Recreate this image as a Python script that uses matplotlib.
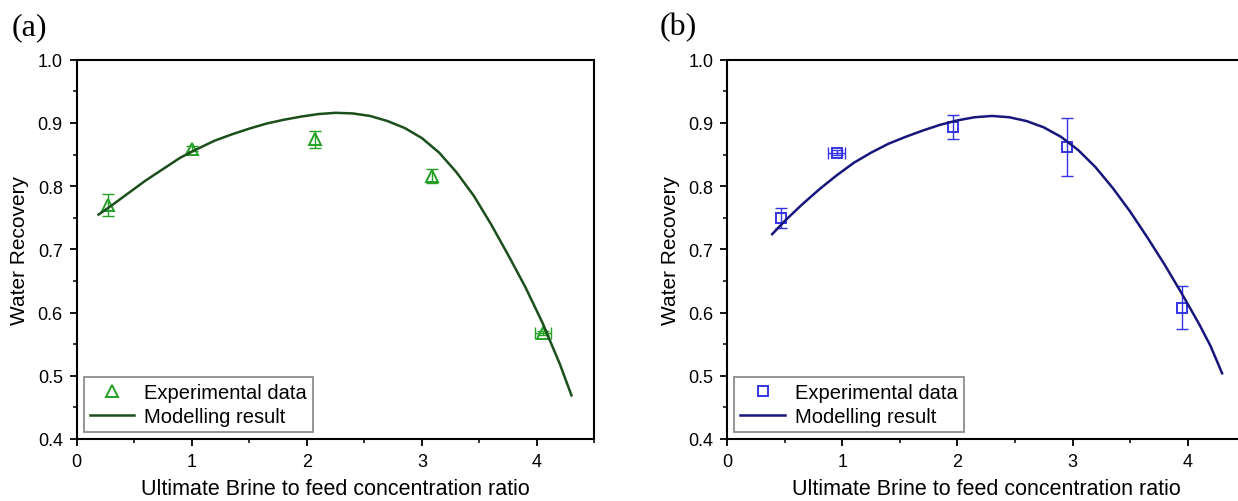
import matplotlib
matplotlib.use('Agg')
import matplotlib.pyplot as plt
from matplotlib.ticker import MultipleLocator
import numpy as np

plt.rcParams['font.family'] = ['Liberation Sans', 'DejaVu Sans']

# panel (a) - experimental points
exp_a_x = [0.27, 1.00, 2.07, 3.09, 4.05]
exp_a_y = [0.770, 0.859, 0.874, 0.816, 0.568]
exp_a_yerr = [0.017, 0.004, 0.013, 0.011, 0.003]
exp_a_xerr = [0.0, 0.0, 0.0, 0.0, 0.07]

# panel (a) - modelling result
model_a_x = [0.19, 0.30, 0.45, 0.60, 0.75, 0.90, 1.05, 1.20, 1.35, 1.50, 1.65, 1.80,
             1.95, 2.10, 2.25, 2.40, 2.55, 2.70, 2.85, 3.00, 3.15, 3.30, 3.45, 3.60,
             3.75, 3.90, 4.05, 4.20, 4.30]
model_a_y = [0.755, 0.769, 0.789, 0.809, 0.827, 0.845, 0.859, 0.872, 0.882, 0.891, 0.899, 0.905,
             0.910, 0.914, 0.916, 0.915, 0.911, 0.903, 0.892, 0.876, 0.853, 0.822, 0.785, 0.740,
             0.691, 0.640, 0.583, 0.518, 0.469]

# panel (b) - experimental points
exp_b_x = [0.47, 0.95, 1.96, 2.95, 3.95]
exp_b_y = [0.750, 0.853, 0.894, 0.862, 0.608]
exp_b_yerr = [0.016, 0.004, 0.019, 0.046, 0.034]
exp_b_xerr = [0.0, 0.077, 0.0, 0.0, 0.0]

# panel (b) - modelling result
model_b_x = [0.39, 0.50, 0.65, 0.80, 0.95, 1.10, 1.25, 1.40, 1.55, 1.70, 1.85, 2.00,
             2.15, 2.30, 2.45, 2.60, 2.75, 2.90, 3.05, 3.20, 3.35, 3.50, 3.65, 3.80,
             3.95, 4.10, 4.20, 4.30]
model_b_y = [0.724, 0.745, 0.771, 0.795, 0.817, 0.837, 0.853, 0.867, 0.878, 0.888, 0.897, 0.904,
             0.909, 0.911, 0.909, 0.903, 0.893, 0.878, 0.857, 0.830, 0.797, 0.760, 0.719, 0.676,
             0.630, 0.582, 0.547, 0.504]

x_label = 'Ultimate Brine to feed concentration ratio'
y_label = 'Water Recovery'

W, H = 1238, 502
fig = plt.figure(figsize=(W / 100, H / 100), dpi=100)

ax_a = fig.add_axes([76.7 / W, 62 / H, 517.8 / W, 379.3 / H])
ax_b = fig.add_axes([727.3 / W, 62 / H, 517.8 / W, 379.3 / H])


def draw_panel(ax, ex, ey, exerr, eyerr, mx, my, marker, msize, mcolor, lcolor):
    ex = np.array(ex)
    ey = np.array(ey)
    exerr = np.array(exerr)
    ax.errorbar(ex, ey, yerr=eyerr, fmt='none', ecolor=mcolor, elinewidth=1.0,
                capsize=4, capthick=1.0, zorder=2)
    has_x = exerr > 0
    ax.errorbar(ex[has_x], ey[has_x], xerr=exerr[has_x], fmt='none', ecolor=mcolor,
                elinewidth=1.0, capsize=4, capthick=1.0, zorder=2)
    ax.plot(ex, ey, linestyle='none', marker=marker, markersize=msize,
            markerfacecolor='none', markeredgecolor=mcolor, markeredgewidth=1.4,
            label='Experimental data', zorder=3)
    ax.plot(mx, my, color=lcolor, linewidth=1.8, label='Modelling result', zorder=4)

    ax.set_xlim(0, 4.5)
    ax.set_ylim(0.4, 1.0)
    ax.xaxis.set_major_locator(MultipleLocator(1))
    ax.xaxis.set_minor_locator(MultipleLocator(0.5))
    ax.yaxis.set_major_locator(MultipleLocator(0.1))
    ax.yaxis.set_minor_locator(MultipleLocator(0.05))
    ax.tick_params(which='major', direction='out', length=5, width=1.3,
                   labelsize=13, pad=5)
    ax.tick_params(which='minor', direction='out', length=3, width=1.1)
    for s in ax.spines.values():
        s.set_linewidth(1.5)
    ax.set_ylabel(y_label, fontsize=15, labelpad=6)
    ax.set_xlabel(x_label, fontsize=15.5)

    leg = ax.legend(loc='lower left', fontsize=14.5, frameon=True, fancybox=False,
                    edgecolor='#8c8c8c', framealpha=1, borderaxespad=0.35,
                    borderpad=0.3, labelspacing=0.25, handlelength=2.2,
                    handletextpad=0.5)
    leg.get_frame().set_linewidth(1.3)


draw_panel(ax_a, exp_a_x, exp_a_y, exp_a_xerr, exp_a_yerr, model_a_x, model_a_y,
           '^', 8, '#22a022', '#1b4f1b')
draw_panel(ax_b, exp_b_x, exp_b_y, exp_b_xerr, exp_b_yerr, model_b_x, model_b_y,
           's', 6.5, '#3434e6', '#16167c')

# right panel is cut by the figure edge, keep its label where it was
ax_b.xaxis.set_label_coords((986 - 727.3) / 517.8, -0.102)
ax_a.xaxis.set_label_coords((335.6 - 76.7) / 517.8, -0.102)

fig.text(12 / W, 1 - 28 / H, '(a)', fontsize=23, family='Liberation Serif', va='center')
fig.text(660 / W, 1 - 28 / H, '(b)', fontsize=23, family='Liberation Serif', va='center')

fig.savefig('out.png', dpi=100)
